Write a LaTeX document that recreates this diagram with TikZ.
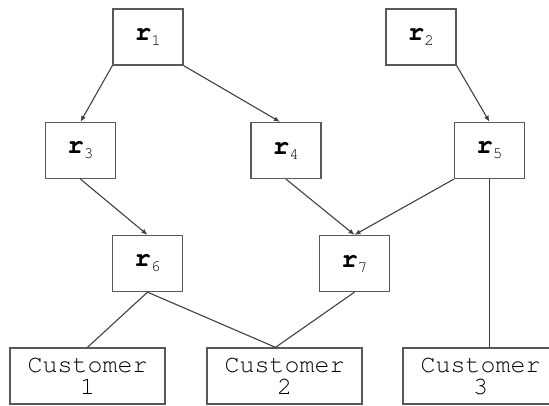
\documentclass[tikz,border=0pt]{standalone}
\usetikzlibrary{arrows.meta,calc}
\newcommand{\courfont}{\fontencoding{T1}\fontfamily{pcr}\selectfont}
\tikzset{
  rbox/.style={draw=black!65, line width=1.3pt, minimum width=70pt, minimum height=56pt,
    inner sep=0pt, font=\courfont\fontsize{27}{20}\selectfont},
  cbox/.style={draw=black!65, line width=1.3pt, minimum width=155pt, minimum height=56pt,
    inner sep=0pt, align=center, font=\courfont\fontsize{25}{22}\selectfont},
  arr/.style={draw=black!75, line width=1.1pt, -{Latex[length=6pt,width=5pt]}},
  lnk/.style={draw=black!75, line width=1.1pt},
}
\newcommand{\rlab}[1]{{\bfseries r}\raisebox{-5pt}{\fontsize{16}{16}\selectfont #1}}
\begin{document}
\begin{tikzpicture}[x=1pt,y=-1pt]
\useasboundingbox (0,0) rectangle (549,405);
\clip (0,0) rectangle (549,405);
\node[rbox] (r1) at (148,37) {\rlab{1}};
\node[rbox] (r2) at (421,37) {\rlab{2}};
\node[rbox] (r3) at (80.5,150.5) {\rlab{3}};
\node[rbox] (r4) at (286,150.5) {\rlab{4}};
\node[rbox] (r5) at (489.5,150.5) {\rlab{5}};
\node[rbox] (r6) at (147.5,263.5) {\rlab{6}};
\node[rbox] (r7) at (354.5,263.5) {\rlab{7}};
\node[cbox] (c1) at (87.5,376) {Customer\\1};
\node[cbox] (c2) at (284.5,376) {Customer\\2};
\node[cbox] (c3) at (480.5,376) {Customer\\3};
\draw[arr] (r1.south west) -- (r3.north);
\draw[arr] (r1.south east) -- ($(r4.north)+(-6,0)$);
\draw[arr] (r2.south east) -- (r5.north);
\draw[arr] (r3.south) -- (r6.north);
\draw[arr] (r4.south) -- (r7.north);
\draw[arr] (r5.south west) -- (r7.north);
\draw[lnk] (r5.south) -- (r5.south |- c3.north);
\draw[lnk] (r6.south) -- (c1.north);
\draw[lnk] (r6.south) -- ($(c2.north)+(-9,0)$);
\draw[lnk] (r7.south) -- ($(c2.north)+(-9,0)$);
\end{tikzpicture}
\end{document}
